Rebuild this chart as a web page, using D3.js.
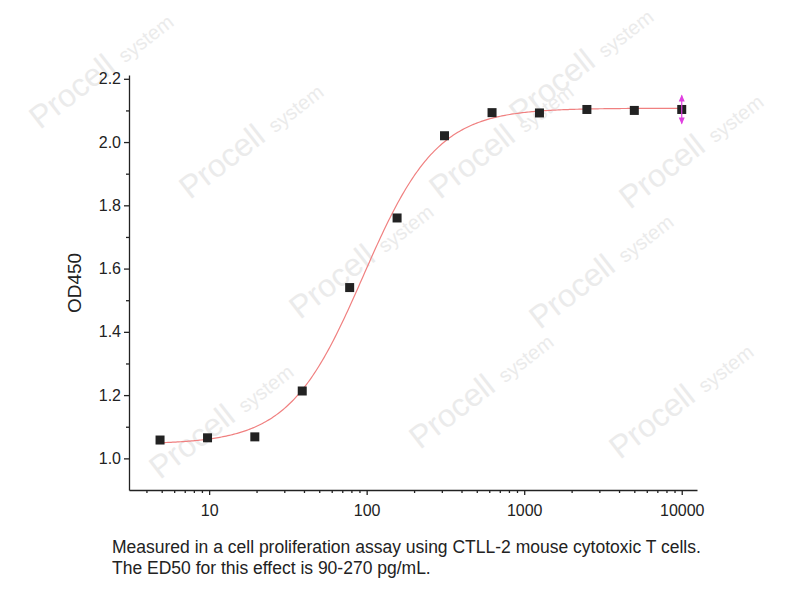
<!DOCTYPE html>
<html><head><meta charset="utf-8">
<script src="https://cdn.jsdelivr.net/npm/d3@7"></script>
<style>body{margin:0;background:#fff}svg{display:block}</style>
</head><body><svg id="c" width="804" height="600"></svg>
<script>
const conc = [4.88, 9.77, 19.5, 39, 78, 156, 312, 625, 1250, 2500, 5000, 10000];
const od = [1.058, 1.065, 1.068, 1.213, 1.540, 1.760, 2.020, 2.093, 2.092, 2.103, 2.100, 2.103];
const fitParams = [1.045, 2.107, 95, 1.85]; // bottom, top, EC50, hill
const yTicks = [1.0, 1.2, 1.4, 1.6, 1.8, 2.0, 2.2];
const xTicks = [10, 100, 1000, 10000];
const captionLines = ["Measured in a cell proliferation assay using CTLL-2 mouse cytotoxic T cells.",
  "The ED50 for this effect is 90-270 pg/mL."];

const svg = d3.select("#c");
const x = d3.scaleLog().domain([3.1, 12500]).range([129, 697]);
const y = d3.scaleLinear().domain([0.9, 2.212]).range([490, 75]);

const wm = [[40,130],[520,125],[190,200],[440,200],[630,210],[300,320],[540,330],[160,480],[420,450],[620,460]];
wm.forEach(([a,b])=>{
  const g = svg.append("g").attr("transform",`translate(${a},${b}) rotate(-38)`).attr("fill","#ebebeb");
  g.append("text").attr("font-family","Arial, Liberation Sans").attr("font-size",32).text("Procell");
  g.append("text").attr("x",108).attr("font-family","Arial, Liberation Sans").attr("font-size",20).text("system");
});

const font = "Arial, Liberation Sans, sans-serif";
const ya = svg.append("g").attr("transform","translate(129,0)")
  .call(d3.axisLeft(y).tickValues(yTicks).tickFormat(d3.format(".1f")).tickSize(5).tickSizeOuter(0));
const yMinor = svg.append("g").attr("transform","translate(129,0)")
  .call(d3.axisLeft(y).tickValues(d3.range(1.1,2.2,0.2)).tickFormat("").tickSize(3).tickSizeOuter(0));
yMinor.select(".domain").remove();
const xa = svg.append("g").attr("transform","translate(0,490)")
  .call(d3.axisBottom(x).tickValues(xTicks).tickFormat(d3.format("d")).tickSize(5).tickSizeOuter(0));
const minors=[];
[1,10,100,1000].forEach(d=>{for(let k=2;k<10;k++){const v=d*k;if(v>3.1&&v<12500)minors.push(v);}});
const xMinor = svg.append("g").attr("transform","translate(0,490)")
  .call(d3.axisBottom(x).tickValues(minors).tickFormat("").tickSize(3).tickSizeOuter(0));
xMinor.select(".domain").remove();
[ya,xa,yMinor,xMinor].forEach(g=>{g.selectAll("path,line").attr("stroke","#222").attr("stroke-width",1.3);
  g.selectAll("text").attr("font-family",font).attr("font-size",16).attr("fill","#222");});
xa.selectAll("text").attr("dy","1.15em");

svg.append("text").attr("transform","translate(81,283) rotate(-90)").attr("text-anchor","middle")
  .attr("font-family",font).attr("font-size",19).attr("fill","#222").text("OD450");

const [b,t,ec,h]=fitParams;
const f = c => b + (t-b)/(1+Math.pow(ec/c,h));
const cs = d3.range(Math.log10(4.88), Math.log10(10000)+1e-9, 0.01).map(v=>Math.pow(10,v));
svg.append("path").attr("d", d3.line().x(c=>x(c)).y(c=>y(f(c)))(cs))
  .attr("fill","none").attr("stroke","#f08080").attr("stroke-width",1.2);

svg.selectAll("rect.p").data(conc).join("rect").attr("class","p")
  .attr("x",(d)=>x(d)-4.5).attr("y",(d,i)=>y(od[i])-4.5).attr("width",9).attr("height",9).attr("fill","#222");

const lx = x(conc[conc.length-1]), ly = y(od[od.length-1]);
svg.append("line").attr("x1",lx).attr("x2",lx).attr("y1",ly-14).attr("y2",ly+14).attr("stroke","#e040e0").attr("stroke-width",1.2);
svg.append("path").attr("d",`M${lx-3},${ly-8}L${lx},${ly-15}L${lx+3},${ly-8}Z M${lx-3},${ly+8}L${lx},${ly+15}L${lx+3},${ly+8}Z`).attr("fill","#e040e0");

captionLines.forEach((s,i)=>svg.append("text").attr("x",112).attr("y",553+i*21)
  .attr("font-family",font).attr("font-size",17.5).attr("fill","#222").text(s));
</script></body></html>
